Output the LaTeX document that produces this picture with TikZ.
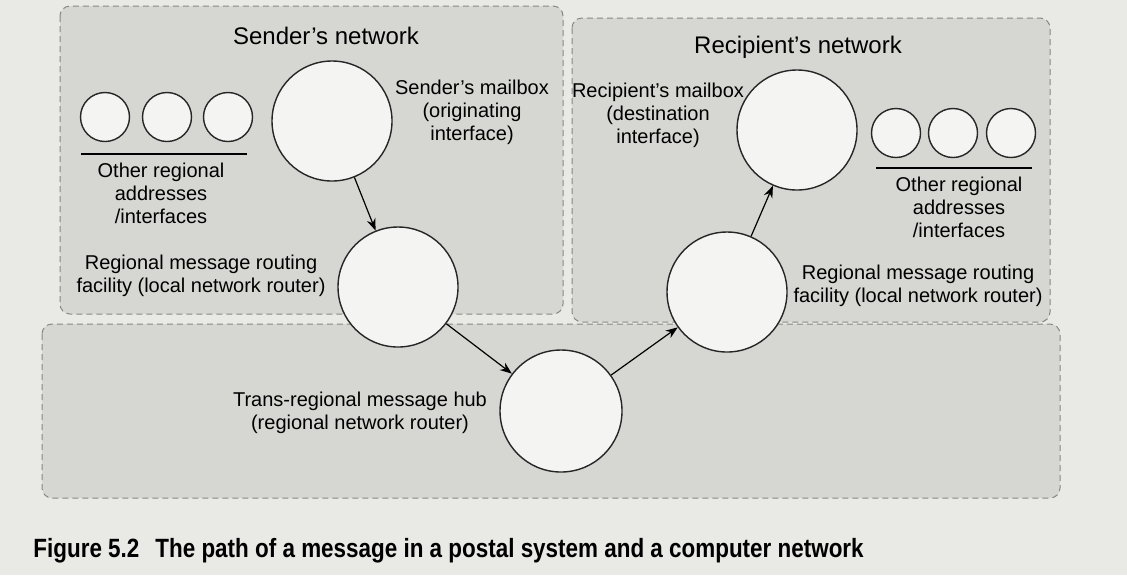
\documentclass[tikz,border=0pt]{standalone}
\usepackage{fontspec}
\setmainfont{Liberation Sans}
\newfontfamily\capfont[FakeStretch=0.85]{Liberation Sans}
\usetikzlibrary{arrows.meta}
\definecolor{pagebg}{RGB}{233,233,230}
\definecolor{boxfill}{RGB}{214,214,210}
\definecolor{boxline}{RGB}{135,135,132}
\definecolor{sitefill}{RGB}{244,244,242}
\tikzstyle{netbox}=[draw=boxline, dash pattern=on 3pt off 2pt, fill=boxfill, rounded corners=5pt, line width=0.5pt]
\tikzstyle{site}=[circle, draw=black!85, fill=sitefill, line width=0.7pt, inner sep=0pt, minimum size=60pt]
\tikzstyle{addr}=[site, minimum size=24.5pt]
\tikzstyle{lbl}=[align=center, inner sep=0pt, font=\fontsize{10}{11.5}\selectfont]
\tikzstyle{nettitle}=[inner sep=0pt, font=\fontsize{12}{14}\selectfont]
\tikzstyle{flow}=[-{Stealth[length=6pt,width=4.5pt]}, line width=0.6pt]

\begin{document}
\begin{tikzpicture}[x=0.5pt, y=-0.5pt]
	\useasboundingbox (0,0) rectangle (1127,575);
	\fill[pagebg] (0,0) rectangle (1127,575);

	% Network areas
	\draw[netbox] (42,324) rectangle (1060,498);
	\draw[netbox] (60,6) rectangle (563,314);
	\draw[netbox] (572,18) rectangle (1050,322);

	\node[nettitle] (stitle) at (326,36) {Sender's network};
	\node[nettitle] (rtitle) at (798,47) {Recipient's network};

	% Other regional addresses
	\foreach \n/\x in {1/105, 2/167, 3/228}{ \node[addr] (sa\n) at (\x,117) {}; }
	\foreach \n/\x in {1/896, 2/953, 3/1011}{ \node[addr] (ra\n) at (\x,133) {}; }
	\coordinate (sl1) at (81,154);   \coordinate (sl2) at (247,154);
	\coordinate (rl1) at (876,168);  \coordinate (rl2) at (1032,168);
	\draw[line width=0.7pt] (sl1) -- (sl2);
	\draw[line width=0.7pt] (rl1) -- (rl2);

	% Mailboxes and routers
	\node[site] (smail) at (332,121) {};
	\node[site] (srouter) at (398,287) {};
	\node[site, minimum size=61pt] (hub) at (561,411) {};
	\node[site] (rrouter) at (727,292) {};
	\node[site] (rmail) at (797,130) {};

	\node[lbl] (smaillbl) at (472,112) {Sender's mailbox\\(originating\\interface)};
	\node[lbl] (saddrlbl) at (161,193) {Other regional\\addresses\\/interfaces};
	\node[lbl] (srouterlbl) at (201,276) {Regional message routing\\facility (local network router)};
	\node[lbl] (rmaillbl) at (658,115) {Recipient's mailbox\\(destination\\interface)};
	\node[lbl] (raddrlbl) at (959,207) {Other regional\\addresses\\/interfaces};
	\node[lbl] (rrouterlbl) at (918,286) {Regional message routing\\facility (local network router)};
	\node[lbl] (hublbl) at (360,413) {Trans-regional message hub\\(regional network router)};

	% Path of the message
	\draw[flow] (smail) -- (srouter);
	\draw[flow] (srouter) -- (hub);
	\draw[flow] (hub) -- (rrouter);
	\draw[flow] (rrouter) -- (rmail);

	\node[anchor=west, inner sep=0pt, font=\capfont\bfseries\fontsize{13.2}{15}\selectfont] (caption) at (33,551) {Figure 5.2\hspace{8pt}The path of a message in a postal system and a computer network};
\end{tikzpicture}
\end{document}
